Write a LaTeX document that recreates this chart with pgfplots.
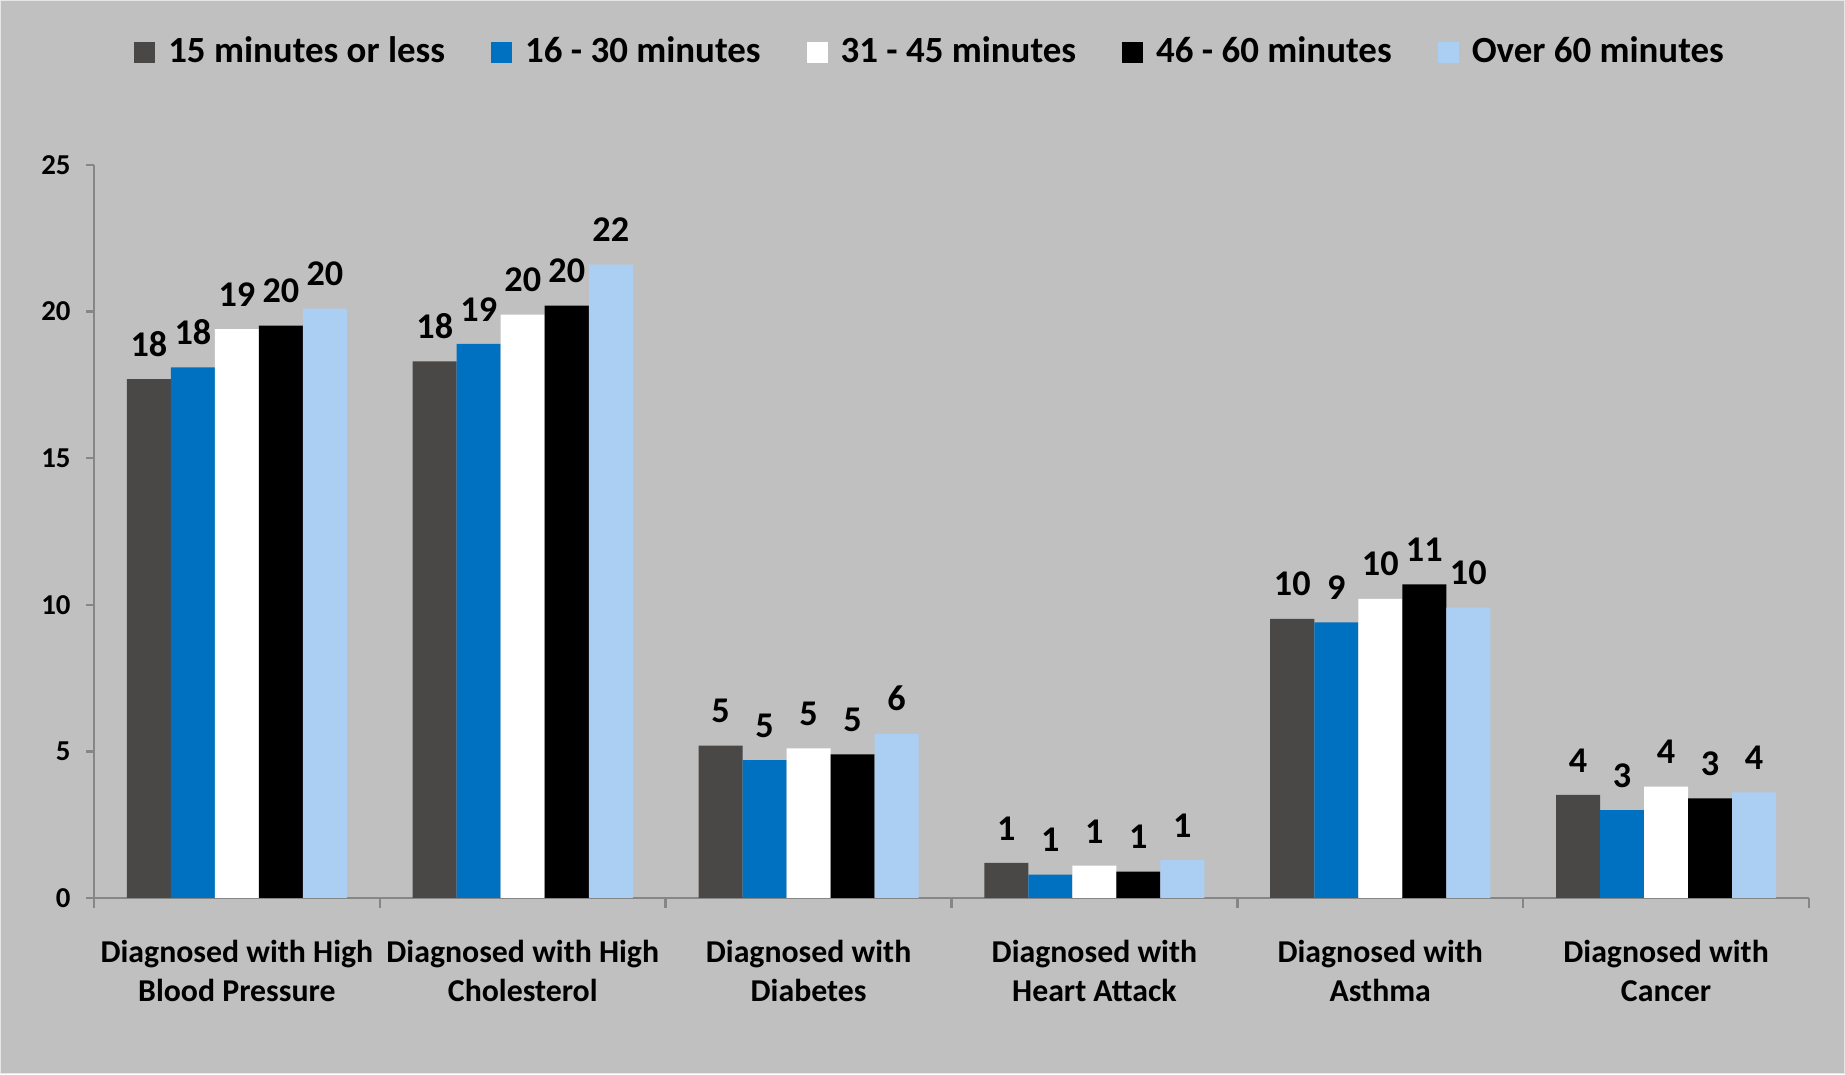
\documentclass[border=0pt]{standalone}
\usepackage{pgfplots}
\pgfplotsset{compat=1.18}
\usepackage{fontspec}
\setmainfont{Carlito}
\usetikzlibrary{backgrounds}

\definecolor{bgray}{HTML}{C0C0C0}
\definecolor{sdark}{HTML}{4A4846}
\definecolor{sblue}{HTML}{0070C0}
\definecolor{slight}{HTML}{AACFF3}
\definecolor{axgray}{HTML}{868686}

\begin{document}
\begin{tikzpicture}
\begin{axis}[
  at={(0,0)}, anchor=south west,
  scale only axis, width=171.5mm, height=73.3mm,
  xmin=-0.5, xmax=5.5, ymin=0, ymax=25,
  ybar=0pt, bar width=4.4mm,
  axis lines=left,
  axis line style={draw=axgray, line width=0.7pt, -},
  tick align=outside,
  tick style={draw=axgray, line width=0.7pt},
  major tick length=0.8mm,
  minor tick length=1mm,
  xtick={0,...,5},
  major x tick style={draw=none},
  minor xtick={-0.5,0.5,...,5.5},
  xticklabels={
    {Diagnosed with High\\Blood Pressure},
    {Diagnosed with High\\Cholesterol},
    {Diagnosed with\\Diabetes},
    {Diagnosed with\\Heart Attack},
    {Diagnosed with\\Asthma},
    {Diagnosed with\\Cancer}},
  xticklabel style={font=\bfseries\fontsize{9.05}{10.9}\selectfont, align=center, yshift=-2.2mm},
  ytick={0,5,...,25},
  yticklabel style={font=\bfseries\fontsize{8.2}{9.5}\selectfont, xshift=-0.3mm},
  /pgf/number format/assume math mode=true,
  nodes near coords={\pgfmathprintnumber[fixed,precision=0]{\pgfplotspointmeta}},
  every node near coord/.append style={font=\bfseries\fontsize{10.3}{12}\selectfont, text=black, inner sep=0pt, yshift=2.2mm},
  legend columns=-1,
  legend style={draw=none, fill=none, at={(0.489,1.154)}, anchor=center,
    font=\bfseries\fontsize{10.5}{12}\selectfont,
    /tikz/every odd column/.append style={column sep=0.6mm},
    /tikz/every even column/.append style={column sep=3.9mm}},
  legend image code/.code={\fill[#1] (0mm,-1.05mm) rectangle (2.1mm,1.05mm);},
]
\addplot[fill=sdark, draw=none] coordinates {(0,17.7) (1,18.3) (2,5.2) (3,1.2) (4,9.52) (5,3.52)};
\addplot[fill=sblue, draw=none] coordinates {(0,18.1) (1,18.9) (2,4.7) (3,0.8) (4,9.4) (5,3.0)};
\addplot[fill=white, draw=none] coordinates {(0,19.4) (1,19.9) (2,5.1) (3,1.1) (4,10.2) (5,3.8)};
\addplot[fill=black, draw=none] coordinates {(0,19.52) (1,20.2) (2,4.9) (3,0.9) (4,10.7) (5,3.4)};
\addplot[fill=slight, draw=none] coordinates {(0,20.1) (1,21.6) (2,5.6) (3,1.3) (4,9.9) (5,3.6)};
\legend{15 minutes or less, 16 - 30 minutes, 31 - 45 minutes, 46 - 60 minutes, Over 60 minutes}
\end{axis}
\begin{scope}[on background layer]
  \fill[bgray] (-9.4mm,-17.6mm) rectangle (175.1mm,89.8mm);
  \draw[white!60!bgray, line width=0.15mm] (-9.325mm,-17.525mm) rectangle (175.025mm,89.725mm);
\end{scope}
\end{tikzpicture}
\end{document}
